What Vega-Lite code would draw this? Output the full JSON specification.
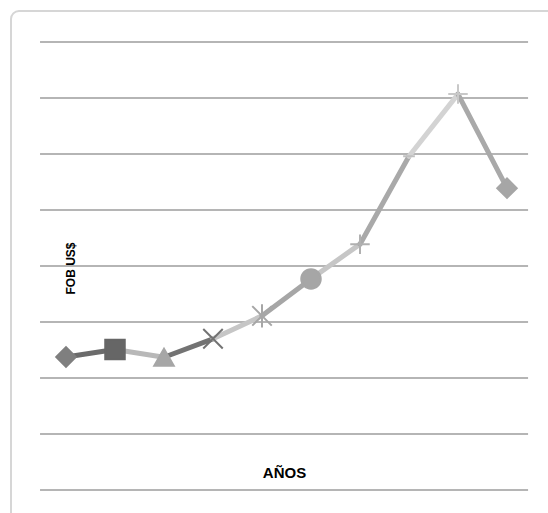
{
  "$schema": "https://vega.github.io/schema/vega-lite/v6.json",
  "autosize": {"type": "none"},
  "padding": {"left": 11, "top": 11, "right": 0, "bottom": 0},
  "width": 545,
  "height": 510,
  "background": "white",
  "config": {"view": {"stroke": "#d6d6d6", "strokeWidth": 2, "cornerRadius": 8}},
  "datasets": {
    "fob": [
      {"year": 2001, "value": 2.375},
      {"year": 2002, "value": 2.51},
      {"year": 2003, "value": 2.37},
      {"year": 2004, "value": 2.70},
      {"year": 2005, "value": 3.11},
      {"year": 2006, "value": 3.77},
      {"year": 2007, "value": 4.39},
      {"year": 2008, "value": 5.96},
      {"year": 2009, "value": 7.07},
      {"year": 2010, "value": 5.39}
    ],
    "grid": [
      {"level": 0}, {"level": 1}, {"level": 2}, {"level": 3}, {"level": 4},
      {"level": 5}, {"level": 6}, {"level": 7}, {"level": 8}
    ]
  },
  "layer": [
    {
      "data": {"name": "grid"},
      "mark": {"type": "rule", "color": "#b5b5b5", "strokeWidth": 2.2},
      "encoding": {
        "y": {"field": "level", "type": "quantitative",
              "scale": {"domain": [-0.5536, 8.5536], "nice": false, "zero": false},
              "axis": {"title": "FOB US$", "domain": false, "ticks": false, "labels": false, "grid": false,
                       "titleX": 59, "titleY": 257, "titleAngle": -90, "titleAlign": "center", "titleBaseline": "middle",
                       "titleFont": "Liberation Sans", "titleFontSize": 12, "titleFontWeight": "bold", "titleColor": "#000000"}},
        "x": {"datum": 2000.47, "type": "quantitative",
              "scale": {"domain": [1999.87755, 2011], "nice": false, "zero": false},
              "axis": {"title": "AÑOS", "domain": false, "ticks": false, "labels": false, "grid": false,
                       "titleX": 273, "titleY": -44, "titleAlign": "center", "titleBaseline": "alphabetic",
                       "titleFont": "Liberation Sans", "titleFontSize": 15, "titleFontWeight": "bold", "titleColor": "#000000"}},
        "x2": {"datum": 2010.43}
      }
    },
    {
      "data": {"name": "fob"},
      "transform": [
        {"window": [{"op": "lead", "field": "value", "as": "nextValue"}, {"op": "lead", "field": "year", "as": "nextYear"}],
         "sort": [{"field": "year"}]},
        {"filter": "datum.nextYear != null"}
      ],
      "mark": {"type": "rule", "strokeWidth": 5, "strokeCap": "round"},
      "encoding": {
        "x": {"field": "year", "type": "quantitative"},
        "y": {"field": "value", "type": "quantitative"},
        "x2": {"field": "nextYear"},
        "y2": {"field": "nextValue"},
        "color": {"field": "nextYear", "type": "nominal", "legend": null,
                  "scale": {"domain": [2002, 2003, 2004, 2005, 2006, 2007, 2008, 2009, 2010],
                            "range": ["#6b6b6b", "#b8b8b8", "#737373", "#c6c6c6", "#a6a6a6", "#c6c6c6", "#a9a9a9", "#d3d3d3", "#a9a9a9"]}}
      }
    },
    {
      "data": {"name": "fob"},
      "mark": {"type": "point", "filled": true, "opacity": 1, "strokeWidth": 2, "size": 380},
      "encoding": {
        "x": {"field": "year", "type": "quantitative"},
        "y": {"field": "value", "type": "quantitative"},
        "shape": {"field": "year", "type": "nominal", "legend": null,
                  "scale": {"domain": [2001, 2002, 2003, 2004, 2005, 2006, 2007, 2008, 2009, 2010],
                            "range": ["diamond", "square", "triangle-up", "M-1,-1L1,1M-1,1L1,-1", "M-1,-1L1,1M-1,1L1,-1M0,-1.2L0,1.2", "circle", "M-1,0L1,0M0,-1L0,1", "M-0.6,0L0.6,0", "M-1,0L1,0M0,-1L0,1", "diamond"]}},
        "fill": {"field": "year", "type": "nominal", "legend": null,
                 "scale": {"domain": [2001, 2002, 2003, 2004, 2005, 2006, 2007, 2008, 2009, 2010],
                           "range": ["#7f7f7f", "#666666", "#a6a6a6", "#737373", "#a6a6a6", "#a6a6a6", "#b0b0b0", "#c0c0c0", "#c8c8c8", "#a6a6a6"]}},
        "stroke": {"field": "year", "type": "nominal", "legend": null,
                   "scale": {"domain": [2001, 2002, 2003, 2004, 2005, 2006, 2007, 2008, 2009, 2010],
                             "range": ["#7f7f7f", "#666666", "#a6a6a6", "#737373", "#a6a6a6", "#a6a6a6", "#b0b0b0", "#c0c0c0", "#c8c8c8", "#a6a6a6"]}}
      }
    }
  ]
}
